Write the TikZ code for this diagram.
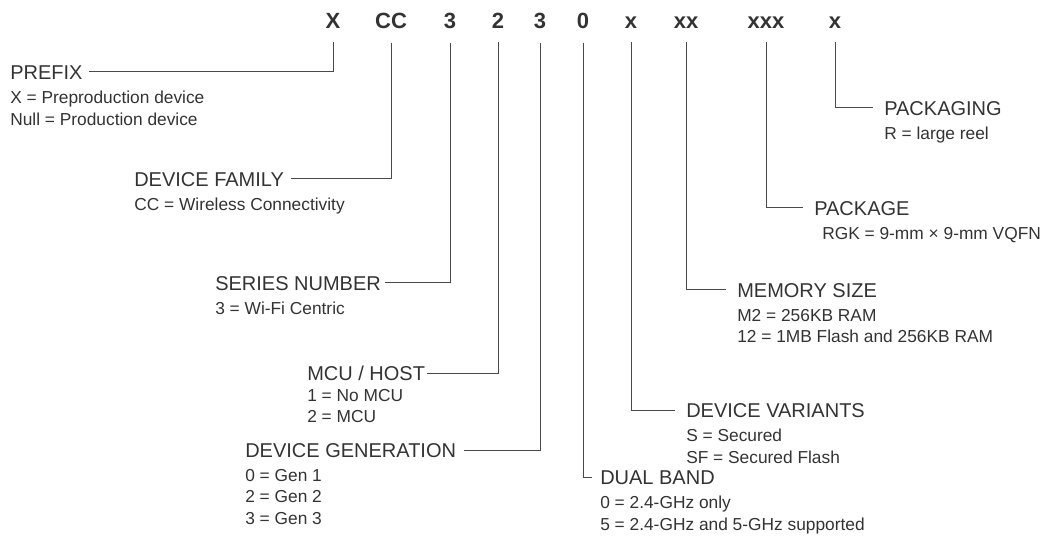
\documentclass[tikz,border=0pt]{standalone}
\usepackage{fontspec}
\setmainfont{Liberation Sans}
\usetikzlibrary{positioning}
\definecolor{ink}{HTML}{333333}
\definecolor{wire}{HTML}{4A4A4A}

\begin{document}
\begin{tikzpicture}[x=0.75pt,y=-0.75pt,
    code/.style={font=\fontsize{16.5}{18}\selectfont\bfseries, text=ink, inner sep=0pt, outer ysep=10pt, anchor=base},
    field/.style={font=\fontsize{15}{17}\selectfont, text=ink, inner sep=0pt, text height=10.7pt, text depth=0pt, anchor=west},
    vals/.style={font=\fontsize{13}{16.1}\selectfont, text=ink, inner sep=0pt, align=left},
    lead/.style={draw=wire, line width=0.75pt}]
    \useasboundingbox (0,0) rectangle (1060,538);

    % part number
    \node[code] (hX) at (333,29) {X};
    \node[code] (hCC) at (391,29) {CC};
    \node[code] (hS) at (450,29) {3};
    \node[code] (hH) at (498,29) {2};
    \node[code] (hG) at (540,29) {3};
    \node[code] (hB) at (583,29) {0};
    \node[code] (hV) at (631,29) {x};
    \node[code] (hM) at (686,29) {xx};
    \node[code] (hP) at (766,29) {xxx};
    \node[code] (hK) at (835,29) {x};

    % fields on the left
    \node[field] (pre) at (10,72) {PREFIX};
    \node[vals, below=8.5pt of pre.south west, anchor=north west] (preV) {X = Preproduction device\\Null = Production device};
    \node[field] (fam) at (134,179) {DEVICE FAMILY};
    \node[vals, below=8.5pt of fam.south west, anchor=north west] (famV) {CC = Wireless Connectivity};
    \node[field] (ser) at (215,283) {SERIES NUMBER};
    \node[vals, below=8.5pt of ser.south west, anchor=north west] (serV) {3 = Wi-Fi Centric};
    \node[field] (mcu) at (307,373) {MCU / HOST};
    \node[vals, below=6.5pt of mcu.south west, anchor=north west] (mcuV) {1 = No MCU\\2 = MCU};
    \node[field] (gen) at (245,450) {DEVICE GENERATION};
    \node[vals, below=8.5pt of gen.south west, anchor=north west] (genV) {0 = Gen 1\\2 = Gen 2\\3 = Gen 3};

    % fields on the right
    \node[field] (band) at (600,477) {DUAL BAND};
    \node[vals, below=8.5pt of band.south west, anchor=north west] (bandV) {0 = 2.4-GHz only\\5 = 2.4-GHz and 5-GHz supported};
    \node[field] (var) at (686,410) {DEVICE VARIANTS};
    \node[vals, below=8.5pt of var.south west, anchor=north west] (varV) {S = Secured\\SF = Secured Flash};
    \node[field] (mem) at (737,290) {MEMORY SIZE};
    \node[vals, below=8.5pt of mem.south west, anchor=north west] (memV) {M2 = 256KB RAM\\12 = 1MB Flash and 256KB RAM};
    \node[field] (pkg) at (814,208) {PACKAGE};
    \node[vals, below=8.5pt of pkg.south west, anchor=north west, xshift=6pt] (pkgV) {RGK = 9-mm × 9-mm VQFN};
    \node[field] (pkgg) at (884,108) {PACKAGING};
    \node[vals, below=8.5pt of pkgg.south west, anchor=north west] (pkggV) {R = large reel};

    % leader lines
    \draw[lead, shorten >=5pt] (hX.south) |- (pre.east);
    \draw[lead, shorten >=5pt] (hCC.south) |- (fam.east);
    \draw[lead, shorten >=3pt] (hS.south) |- (ser.east);
    \draw[lead, shorten >=1pt] (hH.south) |- (mcu.east);
    \draw[lead, shorten >=6pt] (hG.south) |- (gen.east);
    \draw[lead, shorten >=6pt] (hB.south) |- (band.west);
    \draw[lead, shorten >=8pt] (hV.south) |- (var.west);
    \draw[lead, shorten >=8pt] (hM.south) |- (mem.west);
    \draw[lead, shorten >=8pt] (hP.south) |- (pkg.west);
    \draw[lead, shorten >=8pt] (hK.south) |- (pkgg.west);
\end{tikzpicture}
\end{document}
